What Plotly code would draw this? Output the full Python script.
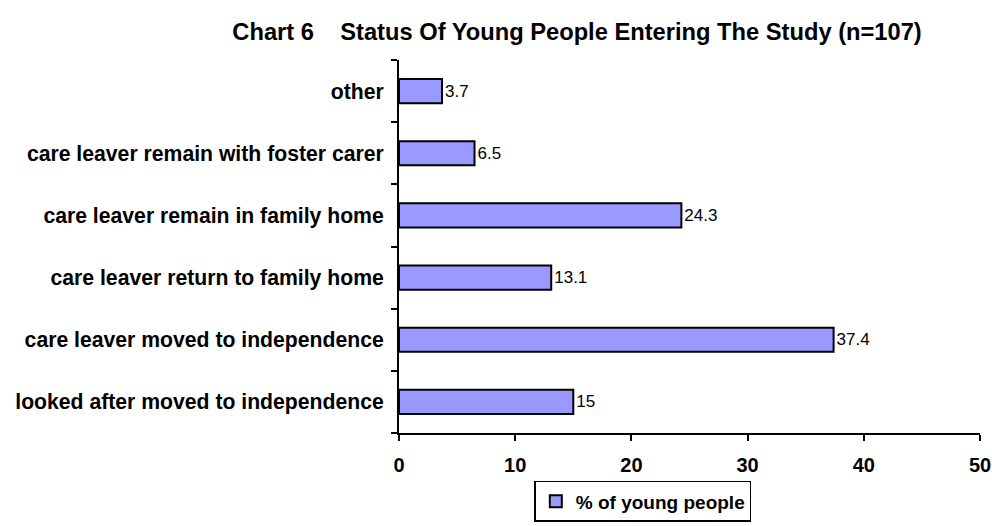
import plotly.graph_objects as go

categories = ["looked after moved to independence", "care leaver moved to independence",
              "care leaver return to family home", "care leaver remain in family home",
              "care leaver remain with foster carer", "other"]
values = [15, 37.4, 13.1, 24.3, 6.5, 3.7]
value_labels = ["15", "37.4", "13.1", "24.3", "6.5", "3.7"]
x_ticks = [0, 10, 20, 30, 40, 50]

FONT = "Liberation Sans, Arial, sans-serif"

fig = go.Figure()
fig.add_trace(go.Bar(
    y=categories, x=values, orientation="h", name="% of young people",
    marker=dict(color="#9999FF", line=dict(color="black", width=2)),
    text=value_labels, textposition="outside", cliponaxis=False,
    textfont=dict(family=FONT, size=17, color="black"),
    width=0.39,
))
fig.update_layout(
    width=992, height=526,
    paper_bgcolor="white", plot_bgcolor="white",
    margin=dict(l=399, r=12, t=60, b=93),
    font=dict(family=FONT, color="black"),
    title=dict(text="<b>Chart 6&nbsp;&nbsp;&nbsp;&nbsp;Status Of Young People Entering The Study (n=107)</b>",
               x=0.5817, xanchor="center", xref="container",
               y=0.939, yanchor="middle", yref="container",
               font=dict(size=23.7, color="black")),
    xaxis=dict(range=[0, 50], tickvals=x_ticks, showgrid=False, zeroline=False, automargin=False,
               showline=True, linecolor="black", linewidth=2,
               ticks="outside", ticklen=6, tickwidth=2, tickcolor="black",
               tickfont=dict(size=20, color="black", weight="bold"), ticklabelstandoff=7),
    yaxis=dict(categoryorder="array", categoryarray=categories, range=[-0.5, 5.5], automargin=False,
               showgrid=False, zeroline=False, showline=True, linecolor="black", linewidth=2,
               ticks="outside", tickson="boundaries", ticklen=6, tickwidth=2, tickcolor="black",
               tickfont=dict(size=21.2, color="black", weight="bold"), ticklabelstandoff=9),
    showlegend=True,
    legend=dict(orientation="h", xref="container", yref="container",
                x=0.648, xanchor="center", y=0.008, yanchor="bottom",
                bordercolor="black", borderwidth=1.5, itemwidth=30,
                font=dict(size=19, color="black", weight="bold")),
)
fig.write_html("out.html", config={"displayModeBar": False},
               post_script="document.documentElement.style.margin='0';document.body.style.margin='0';"
                           "document.documentElement.style.overflow='hidden';document.body.style.overflow='hidden';")
